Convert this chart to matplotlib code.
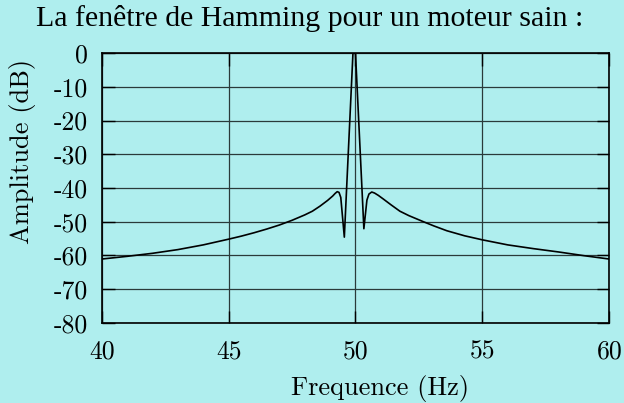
"""Spectre d'une fenetre de Hamming (moteur sain)"""

import matplotlib
matplotlib.use("Agg")
import matplotlib.pyplot as plt

freq = [40, 41, 42, 43, 44, 45, 45.5, 46, 46.5, 47, 47.5, 48, 48.3, 48.6,
        48.9, 49.1, 49.2, 49.28, 49.35, 49.42, 49.56, 49.9, 50.0, 50.33,
        50.45, 50.53, 50.64, 50.75, 50.9, 51.1, 51.4, 51.75, 52.1, 52.67,
        53.1, 53.6, 54.3, 55, 56, 57, 58, 59, 60]
amplitude = [-61.1, -60.3, -59.4, -58.3, -56.9, -55.2, -54.3, -53.3, -52.2,
             -51.0, -49.6, -48.0, -46.9, -45.4, -43.7, -42.4, -41.6, -41.1,
             -41.3, -42.8, -54.6, 0.0, 0.0, -52.1, -43.6, -41.8, -41.2,
             -41.5, -42.2, -43.3, -45.0, -46.9, -48.2, -50.0, -51.3, -52.7,
             -54.2, -55.4, -56.9, -58.0, -59.0, -60.1, -61.1]

xticks = [40, 45, 50, 55, 60]
yticks = [0, -10, -20, -30, -40, -50, -60, -70, -80]

bg = "#afeeee"
plt.rcParams["axes.unicode_minus"] = False

fig = plt.figure(figsize=(6.24, 4.03), dpi=100, facecolor=bg)
ax = fig.add_axes([0.163, 0.1993, 0.8134, 0.6685], facecolor=bg)

ax.plot(freq, amplitude, color="black", linewidth=1.2, zorder=3)

ax.set_xlim(40, 60)
ax.set_ylim(-80, 0)
ax.set_xticks(xticks)
ax.set_xticklabels([str(t) for t in xticks], family="cmr10", fontsize=18.5)
ax.set_yticks(yticks)
ax.set_yticklabels([str(t) for t in yticks], family="cmr10", fontsize=18.5)
ax.tick_params(direction="in", length=9, width=1.0, top=True, right=True)
ax.tick_params(axis="y", pad=10)
ax.tick_params(axis="x", pad=12)
ax.grid(True, color="#2a3a3a", linewidth=0.9)
for s in ax.spines.values():
    s.set_linewidth(1.2)
    s.set_zorder(4)

fig.text(0.4968, 0.9355, "La fenêtre de Hamming pour un moteur sain :",
         family="Liberation Serif", fontsize=21.5, ha="center", va="baseline")
fig.text(0.609, 0.0199, "Frequence (Hz)", family="cmr10", fontsize=19,
         ha="center", va="baseline")
fig.text(0.0353, 0.6253, "Amplitude (dB)", family="cmr10", fontsize=19,
         ha="center", va="center", rotation=90)

fig.savefig("out.png", dpi=100, facecolor=bg)
